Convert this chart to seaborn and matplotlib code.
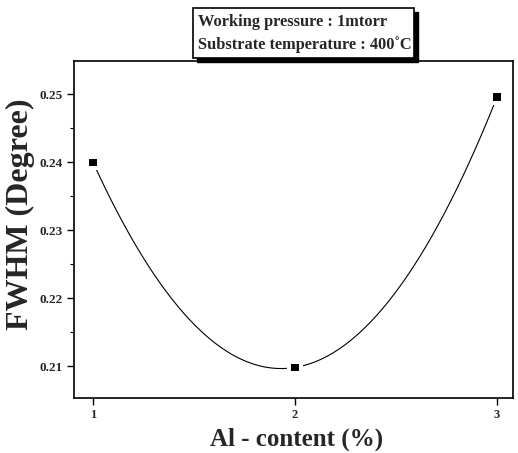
import numpy as np
import pandas as pd
import matplotlib
matplotlib.use("Agg")
import matplotlib.pyplot as plt
from matplotlib.patches import Rectangle
import seaborn as sns

# data
al_content = [1, 2, 3]
fwhm = [0.2400, 0.2098, 0.2496]
x_ticks = [1, 2, 3]
y_ticks = [0.21, 0.22, 0.23, 0.24, 0.25]
x_label = "Al - content (%)"
y_label = "FWHM (Degree)"
info_lines = ["Working pressure : 1mtorr", "Substrate temperature : 400\u02daC"]

sns.set_theme(style="ticks")
plt.rcParams['font.family'] = ['Liberation Serif', 'DejaVu Serif']
plt.rcParams['font.weight'] = 'bold'

fig = plt.figure(figsize=(5.18, 4.53), dpi=100)
W, H = 518, 453
ax = fig.add_axes([74 / W, (H - 398) / H, (513 - 74) / W, (398 - 61) / H])

# smooth spline-like curve through the three points
coef = np.polyfit(al_content, fwhm, 2)
xs = np.linspace(min(al_content), max(al_content), 200)
curve = pd.DataFrame({"x": xs, "y": np.polyval(coef, xs)})
pts = pd.DataFrame({"x": al_content, "y": fwhm})

sns.lineplot(data=curve, x="x", y="y", ax=ax, color="black", linewidth=0.8)
sns.scatterplot(data=pts, x="x", y="y", ax=ax, marker="s", s=130, color="white",
                edgecolor="none", zorder=3)
sns.scatterplot(data=pts, x="x", y="y", ax=ax, marker="s", s=26, color="black",
                edgecolor="none", zorder=4)

ax.set_xlim(0.906, 3.079)
ax.set_ylim(0.2053, 0.2549)
ax.set_xticks(x_ticks)
ax.set_xticklabels([str(v) for v in x_ticks], fontsize=9, fontweight='bold')
ax.set_yticks(y_ticks)
ax.set_yticklabels([f"{v:.2f}" for v in y_ticks], fontsize=9.5, fontweight='bold')
ax.set_yticks([0.215, 0.225, 0.235, 0.245], minor=True)
ax.tick_params(axis='both', which='major', direction='out', length=5, width=1, color='black', pad=3)
ax.tick_params(axis='y', which='minor', direction='out', length=3, width=0.8, color='black')
for s in ax.spines.values():
    s.set_visible(True)
    s.set_linewidth(1.2)
    s.set_color('black')

ax.set_xlabel(x_label, fontsize=18, fontweight='bold')
ax.set_ylabel(y_label, fontsize=23, fontweight='bold')
ax.yaxis.set_label_coords(-0.088, 0.545)
ax.xaxis.label.set_va('center')
ax.xaxis.set_label_coords(0.508, -0.122)

# info box with shadow (figure pixel coordinates)
bx0, bx1, by0, by1 = 193, 414, 8, 58
sh = 4
fig.patches.append(Rectangle(((bx0 + sh) / W, (H - by1 - sh) / H), (bx1 - bx0) / W,
                             (by1 - by0) / H, transform=fig.transFigure,
                             facecolor='black', edgecolor='black', zorder=10))
fig.patches.append(Rectangle((bx0 / W, (H - by1) / H), (bx1 - bx0) / W,
                             (by1 - by0) / H, transform=fig.transFigure,
                             facecolor='white', edgecolor='black', linewidth=1.2, zorder=11))
fig.text(198 / W, (H - 22) / H, info_lines[0], fontsize=11.8, fontweight='bold',
         va='center', ha='left', zorder=12)
fig.text(198 / W, (H - 45) / H, info_lines[1], fontsize=11.8, fontweight='bold',
         va='center', ha='left', zorder=12)

fig.savefig("out.png", dpi=100)
